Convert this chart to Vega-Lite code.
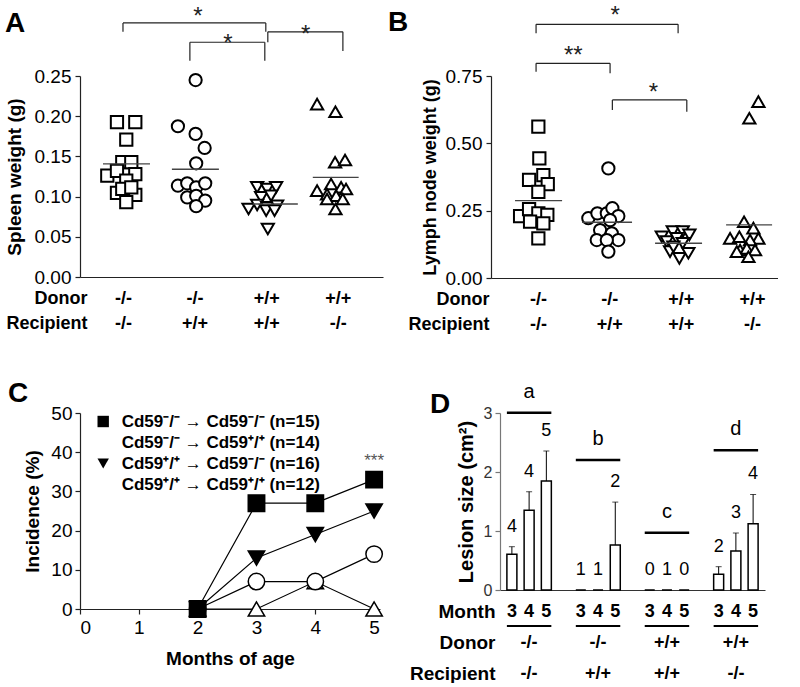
{
  "$schema": "https://vega.github.io/schema/vega-lite/v6.json",
  "background": "white",
  "padding": {"left": 5, "top": 4, "right": 0, "bottom": 0},
  "spacing": 47,
  "resolve": {"scale": {"shape": "independent", "fill": "independent"}, "legend": {"shape": "independent", "fill": "independent"}},
  "vconcat": [
    {
      "spacing": 5,
      "resolve": {"scale": {"shape": "independent"}, "legend": {"shape": "independent"}},
      "hconcat": [
        {
          "width": 303,
          "height": 201,
          "title": {"text": "A", "dx": -75, "dy": 37},
          "layer": [
            {
              "data": {"name": "Apts"},
              "mark": {"type": "point", "filled": true, "fill": "white", "stroke": "black", "strokeWidth": 2, "size": 150, "opacity": 1},
              "encoding": {
                "x": {"field": "x", "type": "quantitative", "scale": {"domain": [0.4, 4.63], "nice": false, "zero": false},
                  "axis": {"values": [1, 2, 3, 4], "ticks": false, "labelExpr": "datum.value == 1 ? ['-/-','-/-'] : datum.value == 2 ? ['-/-','+/+'] : datum.value == 3 ? ['+/+','+/+'] : ['+/+','-/-']",
                    "labelFontWeight": "bold", "labelFontSize": 18, "labelLineHeight": 25, "labelPadding": 12, "labelOverlap": false,
                    "title": ["Donor", "Recipient"], "titleX": 7, "titleY": 12, "titleAlign": "right", "titleBaseline": "top", "titleLineHeight": 25, "titleFontSize": 18}},
                "y": {"field": "v", "type": "quantitative", "scale": {"domain": [0, 0.25], "nice": false},
                  "axis": {"values": [0, 0.05, 0.1, 0.15, 0.2, 0.25], "format": ".2f", "labelOverlap": false, "labelFontSize": 19, "labelPadding": 4, "title": "Spleen weight (g)", "titleFontSize": 19, "titlePadding": 10}},
                "shape": {"field": "g", "type": "nominal", "scale": {"domain": [1, 2, 3, 4], "range": ["square", "circle", "triangle-down", "triangle-up"]}, "legend": null}
              }
            },
            {
              "data": {"name": "Amean"},
              "mark": {"type": "rule", "color": "#444", "strokeWidth": 1.3},
              "encoding": {"x": {"field": "x", "type": "quantitative"}, "x2": {"field": "x2"}, "y": {"field": "v", "type": "quantitative"}}
            },
            {
              "data": {"name": "Abr"},
              "mark": {"type": "rule", "color": "#222", "strokeWidth": 1.2},
              "encoding": {"x": {"field": "x1", "type": "quantitative"}, "x2": {"field": "x2"}, "y": {"field": "y", "type": "quantitative"}}
            },
            {
              "data": {"name": "Abr"},
              "mark": {"type": "rule", "color": "#222", "strokeWidth": 1.2},
              "encoding": {"x": {"field": "x1", "type": "quantitative"}, "y": {"field": "y", "type": "quantitative"}, "y2": {"field": "yl"}}
            },
            {
              "data": {"name": "Abr"},
              "mark": {"type": "rule", "color": "#222", "strokeWidth": 1.2},
              "encoding": {"x": {"field": "x2", "type": "quantitative"}, "y": {"field": "y", "type": "quantitative"}, "y2": {"field": "yr"}}
            },
            {
              "data": {"name": "Abr"},
              "mark": {"type": "text", "fontSize": 24, "baseline": "alphabetic", "dy": 13, "color": "#222"},
              "encoding": {"x": {"field": "xs", "type": "quantitative"}, "y": {"field": "ys", "type": "quantitative"}, "text": {"field": "label"}}
            }
          ]
        },
        {
          "width": 287,
          "height": 202,
          "title": {"text": "B", "dx": -103, "dy": 37},
          "layer": [
            {
              "data": {"name": "Bpts"},
              "mark": {"type": "point", "filled": true, "fill": "white", "stroke": "black", "strokeWidth": 2, "size": 150, "opacity": 1},
              "encoding": {
                "x": {"field": "x", "type": "quantitative", "scale": {"domain": [0.34, 4.365], "nice": false, "zero": false},
                  "axis": {"values": [1, 2, 3, 4], "ticks": false, "labelExpr": "datum.value == 1 ? ['-/-','-/-'] : datum.value == 2 ? ['-/-','+/+'] : datum.value == 3 ? ['+/+','+/+'] : ['+/+','-/-']",
                    "labelFontWeight": "bold", "labelFontSize": 18, "labelLineHeight": 25, "labelPadding": 12, "labelOverlap": false,
                    "title": ["Donor", "Recipient"], "titleX": -2, "titleY": 12, "titleAlign": "right", "titleBaseline": "top", "titleLineHeight": 25, "titleFontSize": 18}},
                "y": {"field": "v", "type": "quantitative", "scale": {"domain": [0, 0.75], "nice": false},
                  "axis": {"values": [0, 0.25, 0.5, 0.75], "format": ".2f", "labelOverlap": false, "labelFontSize": 19, "labelPadding": 4, "title": "Lymph node weight (g)", "titleFontSize": 18, "titlePadding": 6}},
                "shape": {"field": "g", "type": "nominal", "scale": {"domain": [1, 2, 3, 4], "range": ["square", "circle", "triangle-down", "triangle-up"]}, "legend": null}
              }
            },
            {
              "data": {"name": "Bmean"},
              "mark": {"type": "rule", "color": "#444", "strokeWidth": 1.3},
              "encoding": {"x": {"field": "x", "type": "quantitative"}, "x2": {"field": "x2"}, "y": {"field": "v", "type": "quantitative"}}
            },
            {
              "data": {"name": "Bbr"},
              "mark": {"type": "rule", "color": "#222", "strokeWidth": 1.2},
              "encoding": {"x": {"field": "x1", "type": "quantitative"}, "x2": {"field": "x2"}, "y": {"field": "y", "type": "quantitative"}}
            },
            {
              "data": {"name": "Bbr"},
              "mark": {"type": "rule", "color": "#222", "strokeWidth": 1.2},
              "encoding": {"x": {"field": "x1", "type": "quantitative"}, "y": {"field": "y", "type": "quantitative"}, "y2": {"field": "yl"}}
            },
            {
              "data": {"name": "Bbr"},
              "mark": {"type": "rule", "color": "#222", "strokeWidth": 1.2},
              "encoding": {"x": {"field": "x2", "type": "quantitative"}, "y": {"field": "y", "type": "quantitative"}, "y2": {"field": "yr"}}
            },
            {
              "data": {"name": "Bbr"},
              "mark": {"type": "text", "fontSize": 24, "baseline": "alphabetic", "dy": 13, "color": "#222"},
              "encoding": {"x": {"field": "xs", "type": "quantitative"}, "y": {"field": "ys", "type": "quantitative"}, "text": {"field": "label"}}
            }
          ]
        }
      ]
    },
    {
      "spacing": 23,
      "resolve": {"scale": {"shape": "independent", "fill": "independent"}, "legend": {"shape": "independent", "fill": "independent"}},
      "hconcat": [
        {
          "width": 300,
          "height": 196,
          "title": {"text": "C", "dx": -72, "dy": 8},
          "encoding": {
            "x": {"field": "month", "type": "quantitative", "scale": {"domain": [0, 5.1], "nice": false, "zero": false},
              "axis": {"values": [0, 1, 2, 3, 4, 5], "format": "d", "labelOverlap": false, "labelFontSize": 19, "labelPadding": 4, "title": "Months of age", "titleFontSize": 19, "titlePadding": 12}},
            "y": {"field": "inc", "type": "quantitative", "scale": {"domain": [0, 50], "nice": false},
              "axis": {"values": [0, 10, 20, 30, 40, 50], "format": "d", "labelOverlap": false, "labelFontSize": 19, "labelPadding": 3, "title": "Incidence (%)", "titleFontSize": 19, "titlePadding": 8}}
          },
          "layer": [
            {
              "data": {"name": "Cdat"},
              "mark": {"type": "line", "color": "black", "strokeWidth": 1.2},
              "encoding": {"detail": {"field": "series", "type": "nominal"}}
            },
            {
              "data": {"name": "Cdat"},
              "mark": {"type": "point", "filled": false, "stroke": "black", "strokeWidth": 1.5, "size": 270, "opacity": 1},
              "encoding": {
                "shape": {"field": "series", "type": "nominal", "scale": {"domain": ["s1", "s2", "s3", "s4"], "range": ["square", "circle", "triangle-down", "triangle-up"]},
                  "legend": {"orient": "none", "legendX": 14.7, "legendY": 0, "padding": 0, "title": null, "labelFontSize": 17, "labelFontWeight": "bold", "labelFont": "Liberation Sans", "labelColor": "black", "labelLimit": 400, "symbolSize": 130, "symbolStrokeWidth": 1.3, "symbolStrokeColor": "black", "labelOffset": 10, "rowPadding": 3,
                    "labelExpr": "datum.label == 's1' ? 'Cd59⁻/⁻ → Cd59⁻/⁻ (n=15)' : datum.label == 's2' ? 'Cd59⁻/⁻ → Cd59⁺/⁺ (n=14)' : datum.label == 's3' ? 'Cd59⁺/⁺ → Cd59⁻/⁻ (n=16)' : 'Cd59⁺/⁺ → Cd59⁺/⁺ (n=12)'"}},
                "fill": {"field": "series", "type": "nominal", "scale": {"domain": ["s1", "s2", "s3", "s4"], "range": ["black", "white", "black", "white"]},
                  "legend": {"orient": "none", "legendX": 14.7, "legendY": 0, "padding": 0, "title": null, "labelFontSize": 17, "labelFontWeight": "bold", "labelFont": "Liberation Sans", "labelColor": "black", "labelLimit": 400, "symbolSize": 130, "symbolStrokeWidth": 1.3, "symbolStrokeColor": "black", "labelOffset": 10, "rowPadding": 3,
                    "labelExpr": "datum.label == 's1' ? 'Cd59⁻/⁻ → Cd59⁻/⁻ (n=15)' : datum.label == 's2' ? 'Cd59⁻/⁻ → Cd59⁺/⁺ (n=14)' : datum.label == 's3' ? 'Cd59⁺/⁺ → Cd59⁻/⁻ (n=16)' : 'Cd59⁺/⁺ → Cd59⁺/⁺ (n=12)'"}}
              }
            },
            {
              "data": {"name": "Cstar"},
              "mark": {"type": "text", "fontSize": 17, "baseline": "alphabetic", "dy": -14, "color": "#555"},
              "encoding": {"text": {"field": "label"}}
            }
          ]
        },
        {
          "width": 265,
          "height": 177,
          "title": {"text": "D", "dx": -70, "dy": 41},
          "layer": [
            {
              "data": {"name": "Dbars"},
              "mark": {"type": "bar", "fill": "white", "stroke": "black", "strokeWidth": 1.5},
              "encoding": {
                "x": {"field": "bar", "type": "nominal", "sort": null,
                  "scale": {"domain": ["1-3", "1-4", "1-5", "s1", "2-3", "2-4", "2-5", "s2", "3-3", "3-4", "3-5", "s3", "4-3", "4-4", "4-5"], "paddingInner": 0.42, "paddingOuter": 0.4},
                  "axis": {"ticks": false, "labelAngle": 0, "labelOverlap": false, "labelBound": false,
                    "labelExpr": "datum.value == '1-4' ? ['4','-/-','-/-'] : datum.value == '2-4' ? ['4','-/-','+/+'] : datum.value == '3-4' ? ['4','+/+','+/+'] : datum.value == '4-4' ? ['4','+/+','-/-'] : substring(datum.value,0,1) == 's' ? '' : substring(datum.value,2,3)",
                    "labelFontWeight": "bold", "labelFontSize": 18, "labelLineHeight": 31, "labelPadding": 12, "labelDx": 5,
                    "title": ["Month", "Donor", "Recipient"], "titleX": -5, "titleY": 12, "titleAlign": "right", "titleBaseline": "top", "titleLineHeight": 31, "titleFontSize": 19, "domainColor": "#333"}},
                "y": {"field": "size", "type": "quantitative", "scale": {"domain": [0, 3], "nice": false},
                  "axis": {"values": [0, 1, 2, 3], "format": "d", "labelOverlap": false, "labelFontSize": 16, "labelColor": "#333", "labelPadding": 3, "domainColor": "#777", "tickColor": "#777", "title": "Lesion size (cm²)", "titleFontSize": 20, "titlePadding": 7}}
              }
            },
            {
              "data": {"name": "Dbars"},
              "transform": [{"filter": "datum.upper > datum.size"}],
              "mark": {"type": "rule", "color": "black", "strokeWidth": 1},
              "encoding": {"x": {"field": "bar", "type": "nominal"}, "y": {"field": "size", "type": "quantitative"}, "y2": {"field": "upper"}}
            },
            {
              "data": {"name": "Dbars"},
              "transform": [{"filter": "datum.upper > datum.size"}],
              "mark": {"type": "tick", "orient": "horizontal", "size": 6, "thickness": 1, "color": "black"},
              "encoding": {"x": {"field": "bar", "type": "nominal"}, "y": {"field": "upper", "type": "quantitative"}}
            },
            {
              "data": {"name": "Dbars"},
              "mark": {"type": "text", "fontSize": 18, "dy": -20, "baseline": "middle"},
              "encoding": {"x": {"field": "bar", "type": "nominal"}, "y": {"field": "upper", "type": "quantitative"}, "text": {"field": "n"}}
            },
            {
              "data": {"name": "Dgroups"},
              "mark": {"type": "rule", "strokeWidth": 2.5, "color": "black"},
              "encoding": {"x": {"field": "first", "type": "nominal", "bandPosition": 0}, "x2": {"field": "last", "bandPosition": 1}, "y": {"field": "ly", "type": "quantitative"}}
            },
            {
              "data": {"name": "Dgroups"},
              "mark": {"type": "text", "fontSize": 20, "dy": -21, "baseline": "middle"},
              "encoding": {"x": {"field": "mid", "type": "nominal"}, "y": {"field": "ly", "type": "quantitative"}, "text": {"field": "letter"}}
            },
            {
              "data": {"name": "Dgroups"},
              "mark": {"type": "rule", "strokeWidth": 2, "color": "black"},
              "encoding": {"x": {"field": "first", "type": "nominal", "bandPosition": 0}, "x2": {"field": "last", "bandPosition": 1}, "y": {"datum": -0.61, "type": "quantitative"}}
            }
          ]
        }
      ]
    }
  ],
  "datasets": {
    "Apts": [
      {"g": 1, "x": 0.916, "v": 0.1925}, {"g": 1, "x": 1.172, "v": 0.1925}, {"g": 1, "x": 1.046, "v": 0.171}, {"g": 1, "x": 0.99, "v": 0.143}, {"g": 1, "x": 1.116, "v": 0.143},
      {"g": 1, "x": 0.781, "v": 0.126}, {"g": 1, "x": 0.916, "v": 0.132}, {"g": 1, "x": 1.172, "v": 0.128}, {"g": 1, "x": 1.046, "v": 0.12}, {"g": 1, "x": 0.916, "v": 0.1045},
      {"g": 1, "x": 1.172, "v": 0.102}, {"g": 1, "x": 1.046, "v": 0.093}, {"g": 1, "x": 0.99, "v": 0.1095}, {"g": 1, "x": 1.116, "v": 0.1116},
      {"g": 2, "x": 2.014, "v": 0.245}, {"g": 2, "x": 1.767, "v": 0.1875}, {"g": 2, "x": 2.014, "v": 0.178}, {"g": 2, "x": 2.14, "v": 0.1605}, {"g": 2, "x": 2.022, "v": 0.1414},
      {"g": 2, "x": 1.767, "v": 0.1136}, {"g": 2, "x": 1.897, "v": 0.1165}, {"g": 2, "x": 2.022, "v": 0.1116}, {"g": 2, "x": 2.148, "v": 0.1165}, {"g": 2, "x": 1.897, "v": 0.099},
      {"g": 2, "x": 2.022, "v": 0.101}, {"g": 2, "x": 2.148, "v": 0.095}, {"g": 2, "x": 2.022, "v": 0.088},
      {"g": 3, "x": 2.873, "v": 0.1116}, {"g": 3, "x": 3.013, "v": 0.1095}, {"g": 3, "x": 3.138, "v": 0.1116}, {"g": 3, "x": 2.929, "v": 0.099}, {"g": 3, "x": 3.068, "v": 0.101},
      {"g": 3, "x": 2.753, "v": 0.0846}, {"g": 3, "x": 2.873, "v": 0.0896}, {"g": 3, "x": 3.013, "v": 0.0867}, {"g": 3, "x": 3.152, "v": 0.0887}, {"g": 3, "x": 2.999, "v": 0.0825},
      {"g": 3, "x": 3.116, "v": 0.0825}, {"g": 3, "x": 3.022, "v": 0.0597},
      {"g": 4, "x": 3.71, "v": 0.215}, {"g": 4, "x": 3.966, "v": 0.2056}, {"g": 4, "x": 3.961, "v": 0.1427}, {"g": 4, "x": 4.1, "v": 0.1455}, {"g": 4, "x": 3.71, "v": 0.1074},
      {"g": 4, "x": 3.905, "v": 0.1157}, {"g": 4, "x": 4.045, "v": 0.1116}, {"g": 4, "x": 4.114, "v": 0.1095}, {"g": 4, "x": 3.849, "v": 0.103}, {"g": 4, "x": 3.976, "v": 0.101},
      {"g": 4, "x": 4.068, "v": 0.097}, {"g": 4, "x": 3.849, "v": 0.097}, {"g": 4, "x": 3.966, "v": 0.0846}
    ],
    "Amean": [
      {"x": 0.721, "x2": 1.377, "v": 0.1406}, {"x": 1.683, "x2": 2.339, "v": 0.134}, {"x": 2.813, "x2": 3.441, "v": 0.0908}, {"x": 3.65, "x2": 4.29, "v": 0.124}
    ],
    "Abr": [
      {"x1": 1.0, "x2": 2.994, "y": 0.316, "yl": 0.305, "yr": 0.305, "xs": 2.046, "ys": 0.331, "label": "*"},
      {"x1": 1.934, "x2": 2.98, "y": 0.292, "yl": 0.269, "yr": 0.269, "xs": 2.464, "ys": 0.297, "label": "*"},
      {"x1": 3.022, "x2": 4.07, "y": 0.305, "yl": 0.292, "yr": 0.281, "xs": 3.552, "ys": 0.3085, "label": "*"}
    ],
    "Bpts": [
      {"g": 1, "x": 1.004, "v": 0.562}, {"g": 1, "x": 1.018, "v": 0.444}, {"g": 1, "x": 0.874, "v": 0.364}, {"g": 1, "x": 1.074, "v": 0.382}, {"g": 1, "x": 1.136, "v": 0.349},
      {"g": 1, "x": 1.004, "v": 0.32}, {"g": 1, "x": 0.748, "v": 0.23}, {"g": 1, "x": 0.874, "v": 0.256}, {"g": 1, "x": 1.004, "v": 0.24}, {"g": 1, "x": 1.13, "v": 0.234},
      {"g": 1, "x": 0.888, "v": 0.209}, {"g": 1, "x": 1.074, "v": 0.203}, {"g": 1, "x": 1.004, "v": 0.147},
      {"g": 2, "x": 1.986, "v": 0.407}, {"g": 2, "x": 1.705, "v": 0.222}, {"g": 2, "x": 1.832, "v": 0.24}, {"g": 2, "x": 1.964, "v": 0.24}, {"g": 2, "x": 2.042, "v": 0.259},
      {"g": 2, "x": 2.126, "v": 0.23}, {"g": 2, "x": 2.01, "v": 0.215}, {"g": 2, "x": 1.87, "v": 0.178}, {"g": 2, "x": 1.823, "v": 0.141}, {"g": 2, "x": 2.034, "v": 0.166},
      {"g": 2, "x": 2.126, "v": 0.141}, {"g": 2, "x": 1.964, "v": 0.141}, {"g": 2, "x": 1.986, "v": 0.098},
      {"g": 3, "x": 2.735, "v": 0.153}, {"g": 3, "x": 2.889, "v": 0.172}, {"g": 3, "x": 3.029, "v": 0.172}, {"g": 3, "x": 3.122, "v": 0.16}, {"g": 3, "x": 2.805, "v": 0.135},
      {"g": 3, "x": 2.945, "v": 0.147}, {"g": 3, "x": 3.029, "v": 0.129}, {"g": 3, "x": 2.851, "v": 0.098}, {"g": 3, "x": 2.982, "v": 0.073}, {"g": 3, "x": 3.108, "v": 0.092},
      {"g": 3, "x": 2.898, "v": 0.116},
      {"g": 4, "x": 4.09, "v": 0.655}, {"g": 4, "x": 3.963, "v": 0.593}, {"g": 4, "x": 3.889, "v": 0.209}, {"g": 4, "x": 4.02, "v": 0.185}, {"g": 4, "x": 3.693, "v": 0.147},
      {"g": 4, "x": 3.823, "v": 0.153}, {"g": 4, "x": 4.09, "v": 0.147}, {"g": 4, "x": 3.973, "v": 0.141}, {"g": 4, "x": 3.833, "v": 0.104}, {"g": 4, "x": 3.927, "v": 0.11},
      {"g": 4, "x": 4.043, "v": 0.104}, {"g": 4, "x": 3.95, "v": 0.079}, {"g": 4, "x": 3.787, "v": 0.098}
    ],
    "Bmean": [
      {"x": 0.677, "x2": 1.337, "v": 0.287}, {"x": 1.617, "x2": 2.318, "v": 0.207}, {"x": 2.641, "x2": 3.3, "v": 0.129}, {"x": 3.637, "x2": 4.282, "v": 0.197}
    ],
    "Bbr": [
      {"x1": 0.972, "x2": 2.964, "y": 0.942, "yl": 0.909, "yr": 0.909, "xs": 2.08, "ys": 0.995, "label": "*"},
      {"x1": 0.972, "x2": 2.01, "y": 0.797, "yl": 0.766, "yr": 0.76, "xs": 1.495, "ys": 0.847, "label": "**"},
      {"x1": 2.042, "x2": 3.086, "y": 0.661, "yl": 0.624, "yr": 0.617, "xs": 2.617, "ys": 0.71, "label": "*"}
    ],
    "Cdat": [
      {"series": "s4", "month": 2, "inc": 0}, {"series": "s4", "month": 3, "inc": 0}, {"series": "s4", "month": 4, "inc": 7}, {"series": "s4", "month": 5, "inc": 0},
      {"series": "s2", "month": 2, "inc": 0}, {"series": "s2", "month": 3, "inc": 7}, {"series": "s2", "month": 4, "inc": 7}, {"series": "s2", "month": 5, "inc": 14},
      {"series": "s3", "month": 2, "inc": 0}, {"series": "s3", "month": 3, "inc": 13}, {"series": "s3", "month": 4, "inc": 19}, {"series": "s3", "month": 5, "inc": 25},
      {"series": "s1", "month": 2, "inc": 0}, {"series": "s1", "month": 3, "inc": 27}, {"series": "s1", "month": 4, "inc": 27}, {"series": "s1", "month": 5, "inc": 33}
    ],
    "Cstar": [{"month": 5, "inc": 33, "label": "***"}],
    "Dbars": [
      {"bar": "1-3", "size": 0.605, "upper": 0.734, "n": "4"}, {"bar": "1-4", "size": 1.35, "upper": 1.667, "n": "4"}, {"bar": "1-5", "size": 1.847, "upper": 2.356, "n": "5"},
      {"bar": "2-3", "size": 0, "upper": 0, "n": "1"}, {"bar": "2-4", "size": 0, "upper": 0, "n": "1"}, {"bar": "2-5", "size": 0.763, "upper": 1.49, "n": "2"},
      {"bar": "3-3", "size": 0, "upper": 0, "n": "0"}, {"bar": "3-4", "size": 0, "upper": 0, "n": "1"}, {"bar": "3-5", "size": 0, "upper": 0, "n": "0"},
      {"bar": "4-3", "size": 0.266, "upper": 0.395, "n": "2"}, {"bar": "4-4", "size": 0.661, "upper": 0.966, "n": "3"}, {"bar": "4-5", "size": 1.124, "upper": 1.62, "n": "4"}
    ],
    "Dgroups": [
      {"first": "1-3", "mid": "1-4", "last": "1-5", "letter": "a", "ly": 3.005},
      {"first": "2-3", "mid": "2-4", "last": "2-5", "letter": "b", "ly": 2.203},
      {"first": "3-3", "mid": "3-4", "last": "3-5", "letter": "c", "ly": 0.971},
      {"first": "4-3", "mid": "4-4", "last": "4-5", "letter": "d", "ly": 2.367}
    ]
  },
  "config": {
    "font": "Liberation Sans",
    "view": {"stroke": null},
    "axis": {"grid": false, "domainColor": "#222", "tickColor": "#222", "labelColor": "black", "titleColor": "black", "labelFont": "Liberation Sans", "titleFont": "Liberation Sans", "titleFontWeight": "bold", "domainWidth": 1.2, "tickWidth": 1.2, "tickSize": 5},
    "title": {"font": "Liberation Sans", "fontSize": 28, "fontWeight": "bold", "anchor": "start", "frame": "group", "color": "black"},
    "text": {"font": "Liberation Sans"}
  }
}
